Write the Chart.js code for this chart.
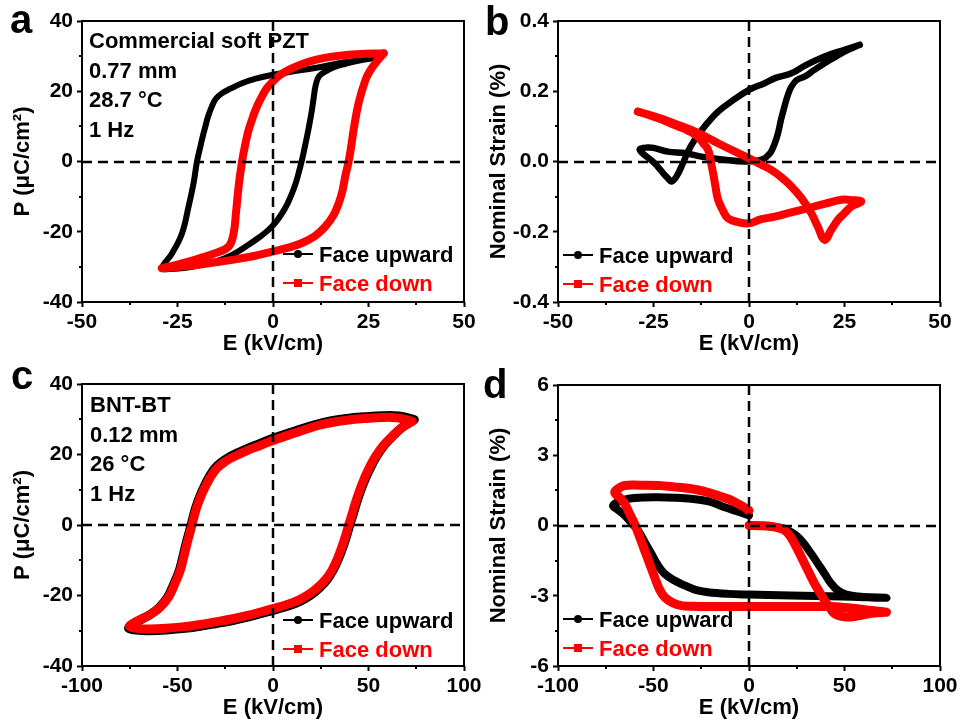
<!DOCTYPE html>
<html>
<head>
<meta charset="utf-8">
<script src="https://cdn.jsdelivr.net/npm/chart.js@4"></script>
<style>
  body { margin: 0; background: #fff; }
  #wrap { position: relative; width: 961px; height: 722px; background: #fff; }
  #wrap canvas { position: absolute; left: 0; top: 0; }
</style>
</head>
<body>
<div id="wrap">
  <canvas id="chartA" width="961" height="722"></canvas>
  <canvas id="chartB" width="961" height="722"></canvas>
  <canvas id="chartC" width="961" height="722"></canvas>
  <canvas id="chartD" width="961" height="722"></canvas>
</div>
<script>
// (a) PZT, P-E loops
const aUpE = [26, 18, 11, 5, 0, -4.5, -8.1, -11, -13.4, -15, -16, -17, -17.7, -18.4, -19, -19.9, -20.8, -22.1, -23.8, -26.4, -29.1, -27, -24, -19.5, -15.1, -10.7, -6.4, -3.5, -1.1, 0.8, 2.4, 3.8, 5, 6, 6.7, 7.6, 8.3, 8.9, 9.6, 10.2, 10.7, 11.1, 12, 14, 16.3, 19, 21.6, 26];
const aUpP = [29.4, 28.1, 26.6, 25.6, 24.7, 23.6, 22.3, 20.8, 19.4, 17.8, 15.7, 12.8, 10, 7.1, 4.3, 0, -6.2, -12.8, -20.4, -26.1, -30.4, -30.6, -30.4, -29.6, -28.5, -26.6, -23.7, -21.5, -19.4, -17.2, -14.7, -12, -9, -6, -3.3, 0.5, 4, 7.1, 11, 14.7, 18.5, 21.3, 24.2, 25.8, 27, 27.8, 28.5, 29.4];
const aDownE = [29, 24, 19.8, 15, 11.1, 7.5, 4.1, 1.8, 0, -1.6, -2.9, -4.3, -5.5, -6.5, -7.2, -8.1, -9, -9.7, -10.3, -11.6, -15.1, -18.5, -22.1, -25.5, -29.1, -24, -19.5, -15, -10.7, -5, 0, 4, 7.6, 11, 13.7, 15.8, 17.2, 18.2, 18.9, 19.8, 20.5, 21.1, 22.4, 24.2, 25.5, 26.8, 29];
const aDownP = [30.8, 30.7, 30.4, 29.8, 28.9, 27.7, 26.1, 24.6, 22.8, 20.9, 18.5, 15.4, 11.9, 8.5, 5.2, 0, -7.1, -14.7, -20.4, -24.2, -26.1, -27.3, -28.5, -29.5, -30.4, -29.9, -29.4, -28.7, -28, -26.9, -25.6, -24.5, -23.2, -21.2, -18.5, -15.4, -11.9, -8.3, -4.3, 0, 4.5, 9, 16.6, 23.2, 26, 28, 30.8];

// (b) PZT, strain-E loops
const bUpE = [29, 25, 19.8, 15, 11.1, 7, 4.1, 0, -4.6, -8.1, -11.6, -14.2, -16, -17.3, -19, -20.3, -21.2, -22.1, -24.7, -28.6, -26.5, -24.7, -21.2, -16.8, -12.5, -6.4, -1.1, 2.5, 4.1, 5, 5.8, 6.7, 7.6, 8.4, 9.3, 10.2, 11.1, 12.5, 14.6, 17, 19.8, 22.5, 25, 29];
const bUpS = [0.332, 0.318, 0.299, 0.275, 0.251, 0.238, 0.223, 0.204, 0.171, 0.142, 0.1, 0.062, 0.028, -0.005, -0.043, -0.057, -0.048, -0.038, -0.005, 0.033, 0.04, 0.038, 0.028, 0.024, 0.014, 0.005, 0, 0.003, 0.009, 0.018, 0.028, 0.05, 0.081, 0.12, 0.157, 0.19, 0.213, 0.232, 0.242, 0.26, 0.28, 0.297, 0.313, 0.332];
const bDownE = [-29.1, -25.5, -22.1, -18.5, -15.1, -11.5, -8.1, -4, 0, 3, 5.8, 8.5, 11.1, 13.8, 16.3, 18, 19.8, 21.5, 23.3, 25, 26.8, 29.4, 27, 24.2, 20, 15.4, 11, 6.7, 3, 0, -3, -5.5, -6.8, -8.1, -8.8, -9.4, -10.1, -10.7, -12, -13.4, -16, -18.6, -21, -23.8, -26.5, -29.1];
const bDownS = [0.142, 0.131, 0.119, 0.104, 0.09, 0.072, 0.052, 0.03, 0.009, -0.008, -0.024, -0.045, -0.071, -0.105, -0.147, -0.185, -0.223, -0.195, -0.166, -0.147, -0.128, -0.114, -0.11, -0.109, -0.12, -0.133, -0.145, -0.157, -0.165, -0.176, -0.172, -0.162, -0.14, -0.109, -0.07, -0.033, 0.005, 0.033, 0.052, 0.071, 0.088, 0.1, 0.111, 0.123, 0.133, 0.142];

// (c) BNT-BT, P-E loops
const cUpE = [74, 66, 57, 48, 39.6, 30, 22.2, 11, 0, -7, -12.7, -18, -23.2, -27.3, -30.6, -33.5, -35.9, -38.3, -40.3, -41.7, -42.9, -44.2, -45.5, -47.1, -49, -52, -55.1, -59.5, -64, -68.6, -73.5, -75.5, -70, -65, -56, -47.6, -39, -30.2, -21, -12.7, -6, 0, 7, 13.6, 19.5, 24.5, 28.4, 31.5, 34.3, 36.7, 38.6, 40.2, 42, 43.7, 45.8, 48.1, 51, 54.3, 58.2, 63, 68.3, 74];
const cUpP = [29.9, 30.9, 31, 30.7, 30.3, 29.5, 28.5, 26.6, 24.6, 23.1, 21.9, 20.6, 19.2, 17.7, 16, 13.6, 11.1, 8.2, 5.2, 2.6, 0, -2.6, -5.2, -8.8, -12.8, -16.8, -20.4, -23.4, -25.3, -26.7, -28.2, -29.3, -29.9, -30, -29.8, -29.4, -28.8, -28, -27.1, -26.1, -25.1, -24.2, -23.1, -21.8, -20, -17.8, -15.5, -12.8, -9.6, -6.2, -3, 0, 3.1, 6.2, 9.6, 12.8, 16.2, 19.5, 22.6, 25.4, 28, 29.9];
const cDownE = [73, 65, 57, 48, 39.6, 30, 22.2, 11, 0, -7, -12.7, -18, -23.2, -27, -30.2, -33, -35.4, -37.8, -39.8, -41.2, -42.4, -43.7, -45, -46.6, -48.5, -51.5, -54.6, -59, -63.4, -68, -73, -75, -70, -65, -56, -47.6, -39, -30.2, -21, -12.7, -6, 0, 7, 13.4, 19, 23.9, 27.8, 30.9, 33.7, 36.1, 38, 39.6, 41.4, 43.1, 45.2, 47.5, 50.3, 53.6, 57.5, 62.3, 67.5, 73];
const cDownP = [29.4, 30.4, 30.5, 30.2, 29.8, 29, 28, 26, 24, 22.5, 21.3, 20, 18.6, 17.2, 15.6, 13.3, 10.9, 8.1, 5.2, 2.6, 0, -2.6, -5.2, -8.8, -12.8, -16.8, -20.4, -23.3, -25.1, -26.4, -27.8, -28.8, -29.4, -29.5, -29.3, -28.9, -28.3, -27.5, -26.6, -25.6, -24.6, -23.7, -22.6, -21.3, -19.6, -17.5, -15.3, -12.8, -9.6, -6.2, -3, 0, 3.1, 6.2, 9.6, 12.8, 16.2, 19.4, 22.4, 25.1, 27.6, 29.4];

// (d) BNT-BT, strain-E loops
const dUpE = [0, 6, 11.7, 15.5, 18.7, 22, 25.7, 29, 32.6, 36, 39.6, 43, 46.6, 51, 57.1, 64, 71.9, 60, 48.3, 35, 22.2, 10, 0, -11, -21.5, -28, -33.7, -39, -44.2, -47.7, -51.1, -54.5, -58.1, -61.6, -65.1, -68.5, -71.2, -67.7, -63.4, -55, -47.6, -39, -30.2, -21, -12.7, -6, 0];
const dUpS = [0, -0.01, -0.04, -0.08, -0.14, -0.28, -0.5, -0.8, -1.21, -1.62, -2.06, -2.48, -2.78, -2.95, -3.03, -3.07, -3.09, -3.06, -3.03, -3.01, -2.99, -2.97, -2.95, -2.92, -2.85, -2.75, -2.56, -2.35, -2.06, -1.7, -1.21, -0.72, -0.21, 0.12, 0.43, 0.66, 0.85, 1.05, 1.14, 1.2, 1.21, 1.19, 1.14, 1.03, 0.78, 0.6, 0.43];
const dDownE = [0, 6, 11.7, 15.5, 18.7, 21.5, 23.9, 26.5, 29.2, 31.8, 34.4, 37, 39.6, 42.2, 44.8, 48, 51.8, 57, 62.3, 67, 71.9, 64, 57.1, 50, 43.1, 33, 22.2, 11, 0, -11, -21.5, -29, -35.4, -40, -44.2, -47, -49.4, -52, -54.6, -57.2, -59.9, -62.5, -65.1, -67.8, -70.3, -68, -65.1, -57, -47.6, -39, -30.2, -23, -16.2, -10.5, -5.8, -2.5, 0];
const dDownS = [0, -0.01, -0.04, -0.1, -0.21, -0.45, -0.78, -1.2, -1.64, -2.07, -2.49, -2.85, -3.2, -3.5, -3.77, -3.87, -3.91, -3.86, -3.77, -3.73, -3.7, -3.63, -3.56, -3.5, -3.46, -3.46, -3.46, -3.46, -3.46, -3.46, -3.46, -3.45, -3.42, -3.3, -3.06, -2.7, -2.21, -1.64, -1.07, -0.5, 0.07, 0.5, 0.93, 1.2, 1.42, 1.6, 1.71, 1.72, 1.71, 1.65, 1.57, 1.45, 1.28, 1.12, 0.93, 0.78, 0.64];

const seriesNames = ['Face upward', 'Face down'];
const pztNotes = ['Commercial soft PZT', '0.77 mm', '28.7 °C', '1 Hz'];
const bntNotes = ['BNT-BT', '0.12 mm', '26 °C', '1 Hz'];

const FONT = '"Liberation Sans", Arial, sans-serif';
const RED = '#ff0000';
const tickFont = { family: FONT, size: 21, weight: 'bold' };
const titleFont = { family: FONT, size: 22, weight: 'bold' };

function pts(xs, ys) {
  return xs.map((x, i) => ({ x: x, y: ys[i] }));
}

// dashed zero lines, frame, minor ticks, legend, notes and panel letter
function decor(p) {
  return {
    id: 'decor',
    afterDatasetsDraw(chart) {
      const { ctx, chartArea: a, scales: { x, y } } = chart;
      const x0 = Math.round(x.getPixelForValue(0));
      const y0 = Math.round(y.getPixelForValue(0));
      ctx.save();
      ctx.strokeStyle = '#000';
      ctx.lineWidth = 2.5;
      ctx.setLineDash([10, 6]);
      ctx.beginPath();
      ctx.moveTo(a.left, y0); ctx.lineTo(a.right, y0);
      ctx.moveTo(x0, a.top); ctx.lineTo(x0, a.bottom);
      ctx.stroke();
      ctx.restore();
    },
    afterDraw(chart) {
      const { ctx, chartArea: a, scales: { x, y } } = chart;
      ctx.save();
      ctx.strokeStyle = '#000';
      ctx.lineWidth = 2;
      ctx.strokeRect(a.left, a.top, a.right - a.left, a.bottom - a.top);

      ctx.beginPath();
      for (let v = p.xMin + p.xStep / 2; v < p.xMax; v += p.xStep) {
        const px = Math.round(x.getPixelForValue(v));
        ctx.moveTo(px, a.bottom); ctx.lineTo(px, a.bottom + 3);
      }
      for (let v = p.yMin + p.yStep / 2; v < p.yMax; v += p.yStep) {
        const py = Math.round(y.getPixelForValue(v));
        ctx.moveTo(a.left, py); ctx.lineTo(a.left - 3, py);
      }
      ctx.stroke();

      // legend
      const lx = a.left + p.legend[0];
      const ly = a.top + p.legend[1];
      const colors = ['#000', RED];
      ctx.font = 'bold 22px ' + FONT;
      ctx.textBaseline = 'alphabetic';
      seriesNames.forEach((name, i) => {
        const yy = ly + i * 29;
        ctx.strokeStyle = colors[i];
        ctx.fillStyle = colors[i];
        ctx.lineWidth = 2;
        ctx.beginPath();
        ctx.moveTo(lx, yy); ctx.lineTo(lx + 30, yy);
        ctx.stroke();
        if (i === 0) {
          ctx.beginPath();
          ctx.arc(lx + 15, yy, 4, 0, Math.PI * 2);
          ctx.fill();
        } else {
          ctx.fillRect(lx + 11, yy - 4, 8, 8);
        }
        ctx.fillText(name, lx + 36, yy + 8);
      });

      // sample notes
      ctx.fillStyle = '#000';
      if (p.notes) {
        p.notes.forEach((t, i) => ctx.fillText(t, p.notePos[0], p.notePos[1] + i * 29.5));
      }

      ctx.font = 'bold 40px ' + FONT;
      ctx.fillText(p.letter, p.letterPos[0], p.letterPos[1]);
      ctx.restore();
    }
  };
}

function makeChart(id, p) {
  const area = p.area;
  return new Chart(document.getElementById(id), {
    type: 'scatter',
    data: {
      datasets: [
        {
          label: seriesNames[1],
          data: pts(p.downX, p.downY),
          showLine: true,
          borderColor: RED,
          borderWidth: p.widths[1],
          pointRadius: 0,
          tension: 0.4,
          borderCapStyle: 'round',
          borderJoinStyle: 'round'
        },
        {
          label: seriesNames[0],
          data: pts(p.upX, p.upY),
          showLine: true,
          borderColor: '#000',
          borderWidth: p.widths[0],
          pointRadius: 0,
          tension: 0.4,
          borderCapStyle: 'round',
          borderJoinStyle: 'round'
        }
      ]
    },
    options: {
      responsive: false,
      animation: false,
      events: [],
      layout: {
        padding: { left: area[0] - 82, top: area[1], right: 961 - area[2], bottom: 722 - area[3] - 56 }
      },
      plugins: { legend: { display: false }, tooltip: { enabled: false } },
      scales: {
        x: {
          type: 'linear',
          min: p.xMin, max: p.xMax,
          ticks: { stepSize: p.xStep, font: tickFont, color: '#000', padding: 3, maxRotation: 0, callback: v => String(v) },
          grid: { drawOnChartArea: false, tickLength: 5, tickWidth: 2, tickColor: '#000' },
          border: { display: false },
          title: { display: true, text: 'E (kV/cm)', font: titleFont, color: '#000', padding: { top: 0, bottom: 1 } },
          afterFit: s => { s.height = 56; }
        },
        y: {
          type: 'linear',
          min: p.yMin, max: p.yMax,
          ticks: { stepSize: p.yStep, font: tickFont, color: '#000', padding: 4, callback: p.yFmt },
          grid: { drawOnChartArea: false, tickLength: 5, tickWidth: 2, tickColor: '#000' },
          border: { display: false },
          title: { display: true, text: p.yTitle, font: titleFont, color: '#000', padding: { top: 10, bottom: 0 } },
          afterFit: s => { s.width = 82; }
        }
      }
    },
    plugins: [decor(p)]
  });
}

makeChart('chartA', {
  area: [82, 21, 464, 302],
  xMin: -50, xMax: 50, xStep: 25, yMin: -40, yMax: 40, yStep: 20,
  yFmt: v => String(v), yTitle: 'P (μC/cm²)',
  upX: aUpE, upY: aUpP, downX: aDownE, downY: aDownP, widths: [6, 8],
  legend: [201, 233], notes: pztNotes, notePos: [89, 48],
  letter: 'a', letterPos: [10, 33]
});

makeChart('chartB', {
  area: [558, 21, 940, 302],
  xMin: -50, xMax: 50, xStep: 25, yMin: -0.4, yMax: 0.4, yStep: 0.2,
  yFmt: v => v.toFixed(1), yTitle: 'Nominal Strain (%)',
  upX: bUpE, upY: bUpS, downX: bDownE, downY: bDownS, widths: [6.5, 8],
  legend: [5, 234],
  letter: 'b', letterPos: [485, 35]
});

makeChart('chartC', {
  area: [82, 384, 464, 666],
  xMin: -100, xMax: 100, xStep: 50, yMin: -40, yMax: 40, yStep: 20,
  yFmt: v => String(v), yTitle: 'P (μC/cm²)',
  upX: cUpE, upY: cUpP, downX: cDownE, downY: cDownP, widths: [9, 9],
  legend: [201, 236], notes: bntNotes, notePos: [90, 412],
  letter: 'c', letterPos: [11, 389]
});

makeChart('chartD', {
  area: [558, 385, 940, 666],
  xMin: -100, xMax: 100, xStep: 50, yMin: -6, yMax: 6, yStep: 3,
  yFmt: v => String(v), yTitle: 'Nominal Strain (%)',
  upX: dUpE, upY: dUpS, downX: dDownE, downY: dDownS, widths: [8, 9],
  legend: [5, 234],
  letter: 'd', letterPos: [483, 398]
});
</script>
</body>
</html>
